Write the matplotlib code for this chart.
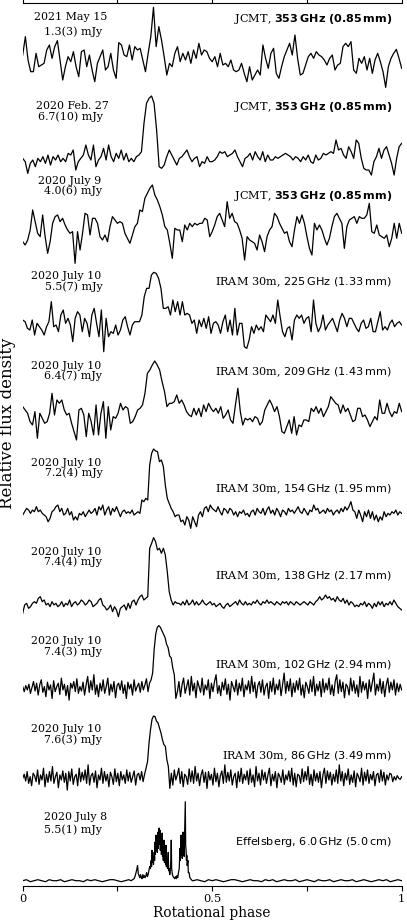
import numpy as np
import matplotlib
matplotlib.use("Agg")
import matplotlib.pyplot as plt

plt.rcParams['font.family'] = ['DejaVu Serif', 'DejaVu Sans']
plt.rcParams['mathtext.fontset'] = 'custom'
plt.rcParams['mathtext.rm'] = 'DejaVu Sans'
plt.rcParams['mathtext.it'] = 'DejaVu Sans:italic'
plt.rcParams['mathtext.bf'] = 'DejaVu Sans:bold'
plt.rcParams['mathtext.sf'] = 'DejaVu Sans:bold'

# ---------------- data (relative flux, arbitrary units; normalised to peak in code) ----------
dates = ["2021 May 15", "2020 Feb. 27", "2020 July 9", "2020 July 10", "2020 July 10",
         "2020 July 10", "2020 July 10", "2020 July 10", "2020 July 10", "2020 July 8"]
fluxes = ["1.3(3) mJy", "6.7(10) mJy", "4.0(6) mJy", "5.5(7) mJy", "6.4(7) mJy",
          "7.2(4) mJy", "7.4(4) mJy", "7.4(3) mJy", "7.6(3) mJy", "5.5(1) mJy"]
instruments = [r"JCMT, $\mathsf{353\,GHz\ (0.85\,mm)}$",
               r"JCMT, $\mathsf{353\,GHz\ (0.85\,mm)}$",
               r"JCMT, $\mathsf{353\,GHz\ (0.85\,mm)}$",
               r"IRAM 30m, $\mathrm{225\,GHz\ (1.33\,mm)}$",
               r"IRAM 30m, $\mathrm{209\,GHz\ (1.43\,mm)}$",
               r"IRAM 30m, $\mathrm{154\,GHz\ (1.95\,mm)}$",
               r"IRAM 30m, $\mathrm{138\,GHz\ (2.17\,mm)}$",
               r"IRAM 30m, $\mathrm{102\,GHz\ (2.94\,mm)}$",
               r"IRAM 30m, $\mathrm{86\,GHz\ (3.49\,mm)}$",
               r"$\mathrm{Effelsberg{,}\ 6.0\,GHz\ (5.0\,cm)}$"]

flux_353_2021may15 = [35,90,20,-15,-15,40,0,5,10,50, 65,25,60,78,20,-40,0,30,15,45,
    0,-30,45,50,0,35,-10,-45,10,30, 50,-10,0,40,-10,-35,72,65,35,30,
    65,20,60,50,55,20,-15,40,90,178, 60,120,80,30,-25,10,0,40,60,15,
    40,20,45,10,50,25,70,35,50,45, 25,15,30,0,40,5,10,0,20,-10,
    -15,-10,10,-20,-45,0,-40,-25,-10,-25, 65,25,-5,40,55,-20,-35,0,30,50,
    70,35,95,25,-25,-20,5,30,40,25, 45,35,30,20,5,25,35,-10,5,10,
    60,70,60,75,-10,-20,25,10,30,-10, 25,-20,20,40,15,-15,-62,0,25,40,
    52,25,-5]

flux_353_2020feb27 = [25,15,-20,10,20,0,25,15,30,10, 35,5,30,20,35,15,25,15,40,35,
    50,-10,15,25,35,65,35,20,65,0, 20,30,55,20,65,30,15,40,25,50,
    20,40,15,25,15,30,35,45,130,190, 205,212,
    190,110,0,-5,5,30,50,35,20,5, 25,30,40,50,30,15,25,30,0,15,
    10,30,15,15,20,30,45,40,45,30, 35,40,50,30,15,0,25,30,40,20,
    45,30,20,45,15,35,20,20,30,25, 30,35,40,35,30,20,30,25,15,30,
    20,35,15,10,35,20,25,40,35,40, 45,40,80,50,55,35,25,60,45,25,
    80,70,25,-5,-10,-10,-25,15,30,55, 25,50,60,35,10,-25,25,60,70]

flux_353_2020jul9 = [15,5,20,50,110,75,40,30,95,30, -20,15,70,90,95,75,85,65,50,40,
    45,-50,45,-10,40,100,95,35,85,85, 70,30,20,35,15,60,90,80,70,75,
    70,40,25,10,35,60,70,110,105,145, 160,175,185,
    155,140,120,95,60,50,10,-35,55,50, 50,15,65,50,70,60,70,65,70,70,
    85,80,30,45,65,90,100,80,60,135, 85,100,75,70,50,25,-40,30,20,15,
    10,-10,35,15,-15,30,50,60,100,90, 70,55,40,45,15,0,50,90,70,95,
    70,30,-5,-25,70,50,65,50,25,5, 25,60,90,100,85,70,-5,60,80,85,
    90,70,90,85,85,95,130,45,40,65, 35,30,25,35,0,25,70,25,70,40]

flux_225 = [45,40,20,15,45,0,35,25,15,0, 25,40,100,25,30,10,60,75,35,50,
    30,-20,50,70,60,10,50,35,-5,60, 80,35,-5,75,-50,50,-5,10,5,30,
    0,15,45,55,25,0,30,40,40,40, 60,115,140,140,180,188,
    185,170,140,80,80,85,60,105,70,100, 60,100,60,65,60,35,45,5,45,25,
    50,20,55,5,35,40,30,5,40,60, 10,45,0,80,0,35,35,-35,-40,-15,
    25,5,30,15,25,10,60,50,40,60, 35,105,55,10,-5,20,25,-15,45,60,
    50,60,35,50,55,10,105,35,10,25, 60,15,30,40,50,30,10,45,65,50,
    25,50,50,35,20,10,35,45,20,25, 50,10,10,40,70,15,25,15,35,45,
    25,35,40,30]

flux_209 = [55,45,35,10,0,40,-40,35,20,5, 10,35,95,30,75,65,75,45,30,35,
    5,-20,-45,45,50,30,-35,35,10,-30, 60,-30,35,70,-40,55,-15,25,20,35,
    65,45,55,50,5,10,25,45,50,60, 95,155,165,180,192,
    180,165,130,100,55,65,65,70,90,65, 75,60,40,30,25,50,30,50,25,60,
    40,65,50,40,50,35,55,20,30,45, 15,5,60,110,40,0,20,15,20,10,
    25,20,0,10,45,60,75,60,40,55, 25,-20,-25,-5,15,-25,25,-30,0,-5,
    15,15,10,50,40,55,35,50,25,40, 55,85,75,65,60,35,60,40,50,30,
    10,15,50,50,25,30,15,-5,10,25, 15,75,35,35,65,40,25,40,35,65,
    40]

flux_154 = [20,30,40,35,25,35,30,45,30,35, 25,20,15,0,10,30,35,45,50,30,
    40,20,25,40,20,30,5,15,5,25, 20,30,15,25,35,25,30,40,20,45,
    35,50,20,35,45,20,40,30,45,30, 15,30,35,25,30,25,35,20,25,30,
    25,65,60,70,65,170,205,218,
    212,210,180,185,165,110,70,55,40,30, 15,20,20,
    0,5,-10,15,5,-20,15,0,-15,20, 30,15,40,45,30,50,40,35,30,45,
    30,20,40,35,25,40,35,20,30,15, 30,25,35,20,25,15,30,35,20,40,
    30,25,40,20,35,45,25,35,20,40, 30,15,35,30,20,40,30,35,25,35,
    45,30,25,40,30,20,35,30,50,35, 40,25,30,35,25,40,30,35,20,30,
    35,25,40,30,45,35,45,60,35,30, 10,35,20,0,30,15,35,10,30,5,
    20,0,15,5,30,15,25,20,30,25, 35,20,30,25]

flux_138 = [0,25,30,15,20,30,35,30,45,50, 35,40,25,30,20,35,25,30,20,25,
    35,20,30,25,40,20,30,35,25,30, 40,35,25,30,40,35,20,25,30,40,
    45,25,20,10,15,25,5,20,10,-10, 15,20,25,10,30,15,35,40,25,40,
    50,55,40,45,50, 195,210,227,
    215,190,195,180,195,175,125,65,40,
    25,35,30,30,25,35,25,40,25,30, 40,25,35,25,30,40,30,25,30,35,
    25,30,20,25,30,20,15,25,30,20, 25,30,35,25,40,30,25,35,25,30,
    25,35,30,40,30,25,35,30,40,30, 35,30,25,35,30,25,35,30,35,25,
    35,30,25,35,30,25,30,35,30,25, 35,30,25,35,40,50,40,45,55,45,
    50,40,45,35,50,40,35,45,30,40, 25,35,30,20,25,20,30,25,35,20,
    30,25,15,30,20,35,25,35,20,30, 25,35,25,40,30,20,15, 10]

flux_102 = [5,-10,8,-5,12,-15,3,20,-8,15,-20,10,25,-12,5,-25,18,-5,10,-30,
    22,-10,5,15,-18,30,-5,12,-22,8,-35,15,0,20,-10,28,-15,5,-8,18,
    -20,10,35,-12,22,-5,40,-18,10,-25,15,-8,25,-15,5,30,-20,12,-10,20,
    -28,8,15,-5,22,-15,10,-30,18,-2,12,-20,25,-8,5,15,-12,20,-5,10,
    28,-10,15,
    25,45,115,160,180,185,180,170,160,150,130,120,95,90,60,40,-30,
    -10,20,-25,10,30,-15,5,25,-20,35,-8,15,-28,22,5,-12,30,-20,10,-5,
    25,-30,15,-10,20,40,-15,8,-22,18,-5,28,-18,12,-35,20,5,-10,25,-20,
    15,-8,30,-25,10,-5,22,-15,35,-10,18,-28,8,20,-12,25,-20,5,15,-30,
    20,-10,30,-18,12,-5,25,-22,10,45,-15,20,-8,28,-25,15,-12,22,-5,30,
    -20,10,-28,18,5,-15,25,-10,35,-22,12,-8,20,-25,28,-12,15,-5,30,-18,
    10,-22,20,40,-15,25,-10,18,-28,12,5,-20,30,-8,22,-15,10,-25,35,-12,
    20,-5,15,-30,25,-10,18,45,-20,12,-8,28,-15,20,-25,10,30,-12,18,-5,
    25,-20,15,-10,12,-5]

flux_86 = [0,12,-8,20,-15,5,-22,15,8,-10,25,-18,10,-5,30,-25,12,-12,20,-8,
    35,-15,5,18,-28,10,-5,22,-12,15,-35,20,-8,28,-18,5,12,-22,30,-10,
    18,-5,25,-15,40,-20,8,15,-12,22,-28,10,-5,30,-15,20,-8,12,-25,18,
    5,-18,28,-10,15,-22,20,-5,10,-15,25,-8,18,-12,5,22,-20,10,15,-5,
    20,-10,12,
    30,50,105,145,175,185,183,170,165,150,135,115,100,95,55,35,-30,
    15,-20,25,-5,10,30,-15,20,-25,12,5,-18,28,-10,22,-15,35,-8,15,-22,
    10,25,-12,18,-30,20,-5,12,-20,30,-10,15,-25,8,22,-15,40,-12,18,-8,
    25,-20,5,15,-28,20,-10,30,-15,12,-5,22,-18,28,-12,10,-25,35,-8,15,
    -20,25,-5,18,-15,10,30,-22,12,-8,20,-28,15,5,-12,25,-18,10,-5,22,
    -10,30,-20,15,-25,12,8,-15,28,-10,20,-5,35,-18,12,-22,25,-8,15,-12,
    20,-28,10,30,-15,22,-5,18,-20,12,-10,25,-15,40,-8,20,-22,15,-5,28,
    -18,10,-12,22,-25,15,5,-10,30,-20,18,-8,25,-15,12,-5,20,-22,10,15,
    -12,25,-8,18,-20,10,-5,15,12,-10,5,-5,8,0,-3,5]

# Effelsberg 6 GHz: baseline samples plus finely sampled pulse window
eff_base_left = [0,1,-1,0,1,0,-1,1,0,0, 1,-1,0,1,0,0,-1,1,0,1, 0,-1,0,1,1,0,-1,0,1]
eff_pulse_phase = [0.286,0.290,0.294,0.297,0.299,0.301,0.303,0.305,0.307,0.309,
    0.311,0.313,0.315,0.317,0.319,0.321,0.323,0.325,0.327,0.329,
    0.331,0.333,0.335,0.337,0.339,0.340,0.341,0.342,0.344,0.345,
    0.347,0.348,0.349,0.350,0.352,0.353,0.354,0.355,0.357,0.358,
    0.360,0.361,0.362,0.363,0.365,0.366,0.368,0.369,0.370,0.371,
    0.373,0.374,0.376,0.377,0.378,0.379,0.381,0.382,0.384,0.385,
    0.386,0.388,0.389,0.391,0.392,0.393,0.395,0.397,0.399,0.401,
    0.403,0.405,0.407,0.409,0.411,0.413,0.414,0.415,0.416,0.418,
    0.419,0.420,0.421,0.423,0.424,0.425,0.426,0.428,0.429,0.430,
    0.431,0.432,0.433,0.434,0.436,0.437,0.439,0.441,0.443,0.445,0.448]
eff_pulse_flux = [0,1,2,5,8,11,15,7,5,3, 6,3,2,6,3,5,3,5,8,4,
    6,10,14,12,20,14,30,18,24,16, 28,20,38,26,45,30,40,28,48,32,
    52,36,50,30,38,26,47,24,30,20, 40,18,26,16,35,14,20,12,28,10,
    12,6,8,20,40,12,6,4,3,2, 4,2,5,3,8,12,22,32,20,45,
    25,36,22,48,26,40,24,60,78,35, 30,20,25,15,20,8,8,3,2,1,0]
eff_base_right = [0,1,0,-1,1,0,1,0,-1,0, 1,1,0,-1,0,1,0,0,-1,1,
    0,1,-1,0,1,0,0,1,-1,0, 1,0,-1,1,0,0,1,-1,0,1,
    0,0,1,-1,0,1,0,-1,0,1, 0,1,-1,0,1,0]

xtick_values = [0, 0.5, 1]
xtick_labels = ["0", "0.5", "1"]

# ---------------- layout ----------------
W, H = 407, 923
ax_left, ax_right, ax_top, ax_bottom = 22.7, 401.7, 3.3, 886.0   # pixels
offsets = [92.82, 81.49, 72.43, 62.42, 52.23, 41.27, 30.89, 22.40, 12.20, 0.60]
amps = [6.73, 8.01, 6.99, 7.10, 7.25, 8.24, 8.58, 7.10, 7.06, 8.95]
date_x = [107.3, 108.3, 101.7, 101.7, 101.7, 101.7, 101.7, 101.7, 101.7, 107.3]
date_y = [19.7, 109.3, 184.0, 279.3, 368.7, 466.0, 555.3, 643.7, 732.0, 820.3]
flux_x = 102.5
flux_y = [35.3, 120.3, 194.3, 290.3, 379.3, 476.0, 565.3, 654.7, 742.7, 833.0]
inst_x = 392.0
inst_y = [22.0, 110.3, 198.7, 285.3, 375.3, 492.7, 579.7, 668.7, 759.3, 845.3]
txt_size = 7.9
inst_size = 8.1

fig = plt.figure(figsize=(W / 100, H / 100), dpi=100)
ax = fig.add_axes([ax_left / W, 1 - ax_bottom / H, (ax_right - ax_left) / W,
                   (ax_bottom - ax_top) / H])
ax.set_xlim(0, 1)
ax.set_ylim(0, 100)


def to_ax(xp, yp):
    return (xp - ax_left) / (ax_right - ax_left), (ax_bottom - yp) / (ax_bottom - ax_top)


series = [flux_353_2021may15, flux_353_2020feb27, flux_353_2020jul9, flux_225,
          flux_209, flux_154, flux_138, flux_102, flux_86]
for i, s in enumerate(series):
    v = np.asarray(s, dtype=float)
    ph = np.linspace(0, 1, len(v))
    ax.plot(ph, offsets[i] + amps[i] * v / v.max(), color='black', lw=0.9)

eff_phase = np.concatenate([np.linspace(0, 0.28, len(eff_base_left)), eff_pulse_phase,
                            np.linspace(0.45, 1.0, len(eff_base_right))])
eff_flux = np.asarray(eff_base_left + eff_pulse_flux + eff_base_right, dtype=float)
ax.plot(eff_phase, offsets[9] + amps[9] * eff_flux / eff_flux.max(), color='black', lw=0.9)

for i in range(10):
    x, y = to_ax(date_x[i], date_y[i])
    ax.text(x, y, dates[i], transform=ax.transAxes, ha='right', va='baseline',
            fontsize=txt_size, family='DejaVu Serif')
    x, y = to_ax(flux_x, flux_y[i])
    ax.text(x, y, fluxes[i], transform=ax.transAxes, ha='right', va='baseline',
            fontsize=txt_size, family='DejaVu Serif')
    x, y = to_ax(inst_x, inst_y[i])
    ax.text(x, y, instruments[i], transform=ax.transAxes, ha='right', va='baseline',
            fontsize=inst_size, family='DejaVu Serif')

for side in ['left', 'right']:
    ax.spines[side].set_visible(False)
for side in ['top', 'bottom']:
    ax.spines[side].set_linewidth(0.8)
ax.set_yticks([])
ax.set_xticks(xtick_values)
ax.set_xticklabels(xtick_labels)
ax.set_xticks([0.25, 0.75], minor=True)
ax.tick_params(axis='x', which='both', direction='out', top=True, bottom=True,
               length=3.5, width=0.8, labelsize=8.2, pad=2.5)
ax.set_xlabel("Rotational phase", fontsize=9.9, labelpad=1.5)
fig.text(8 / W, 1 - 423 / H, "Relative flux density", rotation=90, ha='center',
         va='center', fontsize=12)

fig.savefig("out.png", dpi=100, facecolor='white')
